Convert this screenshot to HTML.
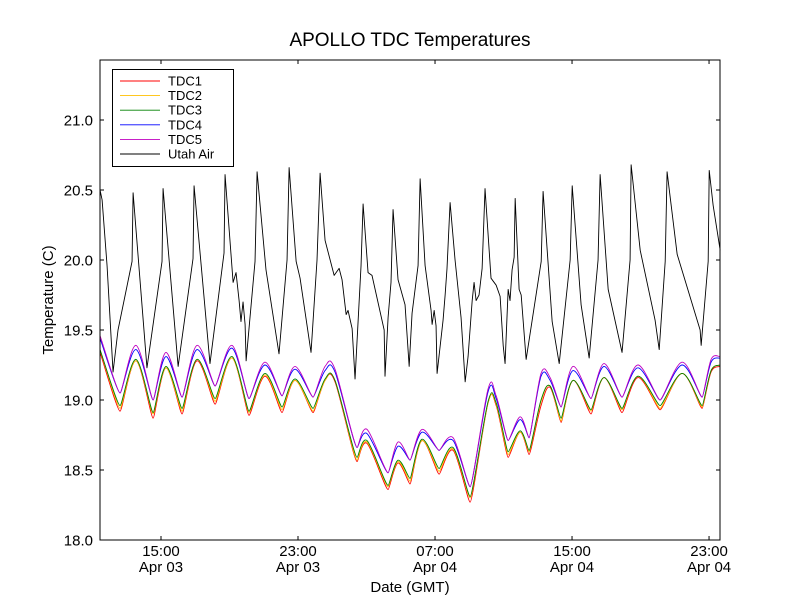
<!DOCTYPE html>
<html><head><meta charset="utf-8">
<style>
html,body{margin:0;padding:0;background:#fff;}
svg{display:block;font-family:"Liberation Sans","DejaVu Sans",sans-serif;}
</style></head>
<body>
<svg id="chart" width="800" height="600" viewBox="0 0 800 600">
  <rect x="0" y="0" width="800" height="600" fill="#fff"/>
  <text x="410" y="46" text-anchor="middle" font-size="19">APOLLO TDC Temperatures</text>
  <g id="series"></g>
  <rect x="100" y="60" width="620" height="480" fill="none" stroke="#000" stroke-width="1"/>
  <g id="axes"></g>
  <text x="410" y="592" text-anchor="middle" font-size="15">Date (GMT)</text>
  <text x="0" y="0" transform="translate(53,300) rotate(-90)" text-anchor="middle" font-size="15">Temperature (C)</text>
  <g id="legend"></g>
</svg>
<script>
// ----- data -----
const airHours = [11.44,11.56,11.85,12.20,12.49,13.31,13.37,14.18,15.06,15.12,16.00,16.87,16.93,17.86,18.68,18.74,19.21,19.38,19.56,19.67,19.79,19.91,19.97,20.49,20.61,21.13,21.89,22.36,22.48,22.89,23.12,23.76,24.11,24.29,24.58,25.11,25.40,25.57,25.81,25.92,26.16,26.33,26.68,26.80,27.09,27.32,28.03,28.08,28.26,28.43,28.55,28.84,29.25,29.49,29.66,30.01,30.13,30.42,30.77,30.83,30.95,31.06,31.12,31.47,31.59,31.70,31.88,32.17,32.52,32.76,32.93,33.17,33.28,33.40,33.57,33.75,33.92,34.27,34.57,34.80,34.98,35.09,35.27,35.38,35.50,35.62,35.68,35.91,36.03,36.32,37.20,37.31,37.84,38.25,38.89,39.01,39.53,40.00,40.52,40.64,41.11,41.92,42.39,42.45,42.98,43.85,44.09,44.44,44.55,45.14,46.48,46.54,46.95,47.01,47.24,47.65];
const utahAir = [20.50,20.43,19.96,19.20,19.50,19.99,20.48,19.23,19.99,20.51,19.24,20.01,20.53,19.26,20.05,20.61,19.84,19.91,19.71,19.56,19.70,19.54,19.28,19.99,20.63,19.93,19.33,20.00,20.66,19.99,19.87,19.34,20.00,20.62,20.14,19.89,19.94,19.86,19.61,19.64,19.51,19.15,19.96,20.40,19.91,19.89,19.50,19.17,19.59,19.84,20.36,19.86,19.68,19.24,19.62,19.96,20.58,19.96,19.64,19.54,19.64,19.53,19.19,19.57,19.75,19.94,20.41,20.00,19.59,19.13,19.31,19.71,19.84,19.71,19.75,19.94,20.51,19.87,19.82,19.74,19.39,19.26,19.79,19.71,19.93,20.02,20.44,19.79,19.75,19.29,19.99,20.49,19.56,19.26,20.00,20.53,19.68,19.30,20.00,20.61,19.79,19.34,20.00,20.68,20.07,19.57,19.36,19.99,20.63,20.04,19.50,19.39,19.99,20.64,20.39,20.07];
const tdcHours = [11.44,12.61,13.54,14.54,15.29,16.23,17.10,18.16,19.15,20.14,21.07,22.07,22.83,23.88,24.58,25.16,26.45,27.03,28.26,28.84,29.54,30.24,31.24,32.06,33.05,34.10,34.57,35.27,35.97,36.49,37.19,37.72,38.36,39.06,40.11,40.87,41.92,42.86,44.14,45.43,46.60,47.12,47.65];
const tdc1 = [19.34,18.92,19.28,18.87,19.23,18.90,19.28,18.97,19.30,18.89,19.17,18.91,19.14,18.91,19.14,19.13,18.56,18.69,18.36,18.55,18.40,18.71,18.47,18.64,18.27,18.98,18.96,18.59,18.77,18.61,18.96,19.09,18.84,19.14,18.90,19.16,18.91,19.16,18.93,19.19,18.94,19.20,19.24];
const tdc2 = [19.36,18.94,19.28,18.90,19.23,18.92,19.29,18.99,19.30,18.91,19.18,18.93,19.14,18.92,19.14,19.14,18.57,18.70,18.38,18.56,18.42,18.71,18.49,18.65,18.30,18.98,18.97,18.61,18.77,18.63,18.99,19.10,18.85,19.14,18.92,19.16,18.93,19.17,18.94,19.19,18.95,19.21,19.25];
const tdc3 = [19.36,18.96,19.29,18.91,19.24,18.94,19.29,19.01,19.31,18.92,19.19,18.95,19.15,18.94,19.15,19.14,18.59,18.71,18.39,18.57,18.44,18.72,18.51,18.66,18.31,18.99,18.98,18.63,18.78,18.64,19.00,19.10,18.87,19.14,18.93,19.16,18.94,19.17,18.96,19.19,18.96,19.21,19.25];
const tdc4 = [19.44,19.05,19.36,19.00,19.31,19.02,19.36,19.10,19.37,19.01,19.25,19.03,19.22,19.02,19.21,19.20,18.66,18.76,18.48,18.67,18.57,18.77,18.64,18.71,18.38,19.06,19.01,18.71,18.86,18.73,19.17,19.14,18.95,19.21,19.01,19.24,19.02,19.23,19.00,19.25,19.02,19.27,19.30];
const tdc5 = [19.46,19.05,19.39,19.00,19.34,19.02,19.39,19.10,19.39,19.01,19.27,19.03,19.24,19.02,19.24,19.22,18.66,18.79,18.48,18.70,18.57,18.79,18.64,18.73,18.38,19.08,19.03,18.71,18.88,18.73,19.19,19.16,18.95,19.24,19.01,19.26,19.02,19.25,19.00,19.27,19.02,19.29,19.31];
const yTicks = [18.0,18.5,19.0,19.5,20.0,20.5,21.0];
const yTickLabels = ["18.0","18.5","19.0","19.5","20.0","20.5","21.0"];
const xTicks = [15,23,31,39,47];
const xTickTimes = ["15:00","23:00","07:00","15:00","23:00"];
const xTickDates = ["Apr 03","Apr 03","Apr 04","Apr 04","Apr 04"];
const seriesNames = ["TDC1","TDC2","TDC3","TDC4","TDC5","Utah Air"];
const seriesColors = ["#ff0000","#ffbf00","#008000","#0000ff","#bf00bf","#000000"];

// ----- scales -----
const X0=100, X1=720, Y0=540, Y1=60;
const H_MIN=11.438, H_MAX=47.64, V_MIN=18.0, V_MAX=21.4286;
function xs(h){return X0+(h-H_MIN)/(H_MAX-H_MIN)*(X1-X0);}
function ys(v){return Y0-(v-V_MIN)/(V_MAX-V_MIN)*(Y0-Y1);}
const NS="http://www.w3.org/2000/svg";
function mk(tag){return document.createElementNS(NS,tag);}

function isMin(p,i){
  if(i<=0||i>=p.length-1) return false;
  return p[i][1]>p[i-1][1] && p[i][1]>p[i+1][1];
}
function smoothPath(hs,vs){
  const p=hs.map((h,i)=>[xs(h),ys(vs[i])]);
  let d="M"+p[0][0].toFixed(2)+","+p[0][1].toFixed(2);
  for(let i=0;i<p.length-1;i++){
    const a=p[Math.max(0,i-1)],b=p[i],c=p[i+1],e=p[Math.min(p.length-1,i+2)];
    let c1=[b[0]+(c[0]-a[0])/6,b[1]+(c[1]-a[1])/6];
    let c2=[c[0]-(e[0]-b[0])/6,c[1]-(e[1]-b[1])/6];
    if(isMin(p,i)) c1=[b[0]+(c[0]-b[0])*0.14,b[1]];
    if(isMin(p,i+1)) c2=[c[0]-(c[0]-b[0])*0.14,c[1]];
    d+=" C"+c1[0].toFixed(2)+","+c1[1].toFixed(2)+" "+c2[0].toFixed(2)+","+c2[1].toFixed(2)+" "+c[0].toFixed(2)+","+c[1].toFixed(2);
  }
  return d;
}
function linePath(hs,vs){
  return hs.map((h,i)=>(i?"L":"M")+xs(h).toFixed(2)+","+ys(vs[i]).toFixed(2)).join(" ");
}

const g=document.getElementById("series");
const tdcData=[tdc1,tdc2,tdc3,tdc4,tdc5];
const tdcSlugs=["tdc1-line","tdc2-line","tdc3-line","tdc4-line","tdc5-line"];
tdcData.forEach((vals,i)=>{
  const p=mk("path");
  p.setAttribute("d",smoothPath(tdcHours,vals));
  p.setAttribute("fill","none");
  p.setAttribute("stroke",seriesColors[i]);
  p.setAttribute("stroke-width","0.9");
  
  
  g.appendChild(p);
});
const air=mk("path");
air.setAttribute("d",linePath(airHours,utahAir));
air.setAttribute("fill","none");
air.setAttribute("stroke","#000");
air.setAttribute("stroke-width","0.9");
air.setAttribute("stroke-linejoin","round");


g.appendChild(air);

// ----- axes -----
const ax=document.getElementById("axes");
yTicks.forEach((v,i)=>{
  const y=ys(v);
  [[X0,X0+4],[X1,X1-4]].forEach(([a,b])=>{
    const t=mk("line");
    t.setAttribute("x1",a);t.setAttribute("x2",b);t.setAttribute("y1",y);t.setAttribute("y2",y);
    t.setAttribute("stroke","#000");
    
    
    ax.appendChild(t);
  });
  const l=mk("text");
  l.setAttribute("x",93);l.setAttribute("y",y+5.5);
  l.setAttribute("text-anchor","end");l.setAttribute("font-size","15");
  l.textContent=yTickLabels[i];
  
  
  ax.appendChild(l);
});
xTicks.forEach((h,i)=>{
  const x=xs(h);
  [[Y0,Y0-4],[Y1,Y1+4]].forEach(([a,b])=>{
    const t=mk("line");
    t.setAttribute("x1",x);t.setAttribute("x2",x);t.setAttribute("y1",a);t.setAttribute("y2",b);
    t.setAttribute("stroke","#000");
    
    
    ax.appendChild(t);
  });
  const l1=mk("text");
  l1.setAttribute("x",x);l1.setAttribute("y",556);
  l1.setAttribute("text-anchor","middle");l1.setAttribute("font-size","15");
  l1.textContent=xTickTimes[i];
  
  
  ax.appendChild(l1);
  const l2=mk("text");
  l2.setAttribute("x",x);l2.setAttribute("y",572);
  l2.setAttribute("text-anchor","middle");l2.setAttribute("font-size","15");
  l2.textContent=xTickDates[i];
  
  
  ax.appendChild(l2);
});

// ----- legend -----
const lg=document.getElementById("legend");
const box=mk("rect");
box.setAttribute("x",112.5);box.setAttribute("y",69.5);box.setAttribute("width",121);box.setAttribute("height",97);
box.setAttribute("fill","#fff");box.setAttribute("stroke","#000");


lg.appendChild(box);
seriesNames.forEach((n,i)=>{
  const y=81+i*14.6;
  const ln=mk("line");
  ln.setAttribute("x1",120);ln.setAttribute("x2",160);ln.setAttribute("y1",y);ln.setAttribute("y2",y);
  ln.setAttribute("stroke",seriesColors[i]);ln.setAttribute("stroke-width","0.9");
  
  
  lg.appendChild(ln);
  const t=mk("text");
  t.setAttribute("x",168);t.setAttribute("y",y+4.5);t.setAttribute("font-size","13");
  t.textContent=n;
  
  
  lg.appendChild(t);
});
</script>
</body></html>
